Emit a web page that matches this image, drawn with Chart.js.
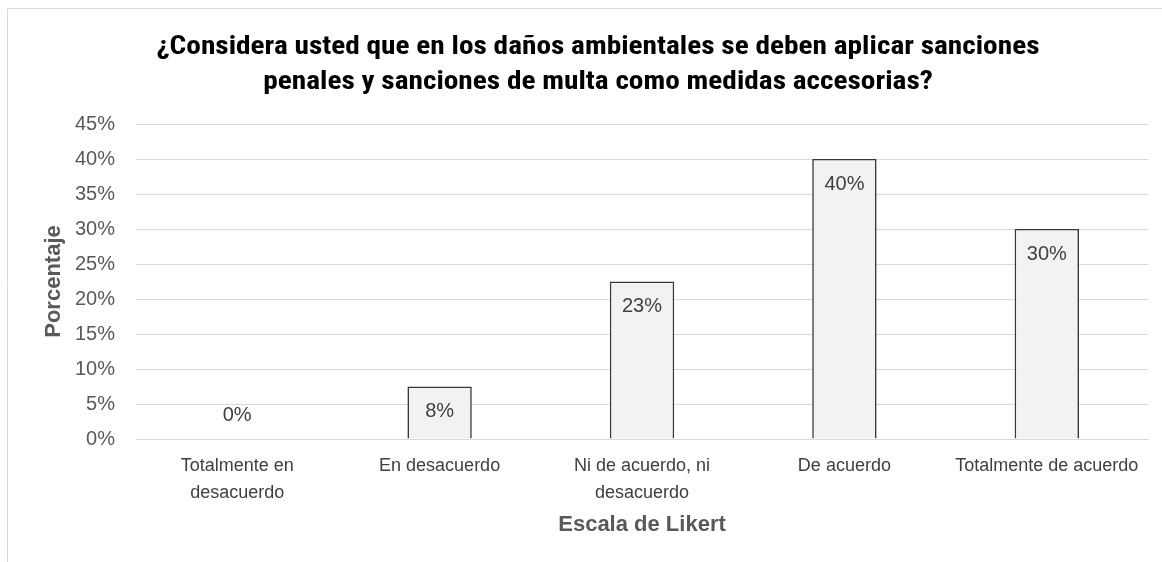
<!DOCTYPE html>
<html lang="es">
<head>
<meta charset="utf-8">
<title>Sanciones penales y de multa</title>
<script src="https://cdn.jsdelivr.net/npm/chart.js@4.4.1/dist/chart.umd.min.js"></script>
<style>
  html, body { margin: 0; padding: 0; background: #ffffff; }
  canvas { display: block; }
</style>
</head>
<body>
<canvas id="chart" width="1162" height="562"></canvas>
<script>
// Survey answers on the Likert scale and the share of respondents (%)
const categories = [
  ['Totalmente en', 'desacuerdo'],
  'En desacuerdo',
  ['Ni de acuerdo, ni', 'desacuerdo'],
  'De acuerdo',
  'Totalmente de acuerdo'
];
const percentages = [0, 7.5, 22.5, 40, 30];
const yTicks = [0, 5, 10, 15, 20, 25, 30, 35, 40, 45];
const titleLines = [
  '¿Considera usted que en los daños ambientales se deben aplicar sanciones',
  'penales y sanciones de multa como medidas accesorias?'
];
const yAxisTitle = 'Porcentaje';
const xAxisTitle = 'Escala de Likert';

const SANS = '"Liberation Sans", Arial, sans-serif';
const NARROW = '"Liberation Sans Narrow", "Arial Narrow", "Roboto Condensed", sans-serif';

// White background, the thin frame and the two-line heading
const framePlugin = {
  id: 'frame',
  beforeDraw(chart) {
    const ctx = chart.ctx;
    ctx.save();
    ctx.fillStyle = '#ffffff';
    ctx.fillRect(0, 0, chart.width, chart.height);
    ctx.strokeStyle = '#d9d9d9';
    ctx.lineWidth = 1;
    ctx.beginPath();
    ctx.moveTo(7.5, chart.height);
    ctx.lineTo(7.5, 8.5);
    ctx.lineTo(chart.width, 8.5);
    ctx.stroke();
    ctx.restore();

    // heading: condensed bold face, widened so the first line spans 883px
    ctx.save();
    ctx.fillStyle = '#000000';
    ctx.font = 'bold 25px ' + NARROW;
    ctx.textAlign = 'center';
    ctx.textBaseline = 'middle';
    const stretch = 883 / ctx.measureText(titleLines[0]).width;
    ctx.translate(598, 0);
    ctx.scale(stretch, 1);
    titleLines.forEach((line, i) => ctx.fillText(line, 0, 48 + i * 35));
    ctx.restore();
  }
};

// Value labels just inside the top of each bar (above the axis for a zero bar)
const valueLabels = {
  id: 'valueLabels',
  afterDatasetsDraw(chart) {
    const ctx = chart.ctx;
    const meta = chart.getDatasetMeta(0);
    ctx.save();
    ctx.font = '20px ' + SANS;
    ctx.fillStyle = '#404040';
    ctx.textAlign = 'center';
    ctx.textBaseline = 'middle';
    meta.data.forEach((bar, i) => {
      const v = percentages[i];
      const y = v > 0 ? bar.y + 25 : bar.y - 24;
      ctx.fillText(Math.round(v) + '%', bar.x, y);
    });
    ctx.restore();
  }
};

new Chart(document.getElementById('chart'), {
  type: 'bar',
  data: {
    labels: categories,
    datasets: [{
      data: percentages,
      backgroundColor: '#f2f2f2',
      borderColor: '#383838',
      borderWidth: 1.6,
      barPercentage: 1,
      categoryPercentage: 0.318
    }]
  },
  options: {
    responsive: false,
    devicePixelRatio: 1,
    animation: false,
    layout: { padding: { top: 124, right: 14, bottom: 0, left: 0 } },
    plugins: {
      legend: { display: false },
      title: { display: false },
      tooltip: { enabled: false }
    },
    scales: {
      x: {
        grid: { display: false, drawTicks: false },
        border: { display: true, color: '#d9d9d9' },
        ticks: {
          color: '#404040',
          font: { family: SANS, size: 18, lineHeight: 1.5 },
          padding: 14,
          maxRotation: 0,
          autoSkip: false
        },
        title: {
          display: true,
          text: xAxisTitle,
          color: '#595959',
          font: { family: SANS, size: 22, weight: 'bold', lineHeight: 1.2 },
          padding: { top: 0, bottom: 24 }
        },
        afterFit(scale) { scale.height = 123; }
      },
      y: {
        min: 0,
        max: 45,
        afterBuildTicks(scale) { scale.ticks = yTicks.map(v => ({ value: v })); },
        grid: { color: '#d9d9d9', lineWidth: 1, drawTicks: false },
        border: { display: false },
        ticks: {
          color: '#595959',
          font: { family: SANS, size: 20 },
          padding: 21,
          callback: v => v + '%'
        },
        title: {
          display: true,
          text: yAxisTitle,
          color: '#595959',
          font: { family: SANS, size: 22, weight: 'bold', lineHeight: 1.2 },
          padding: { top: 41, bottom: 0 }
        },
        afterFit(scale) { scale.width = 136; }
      }
    }
  },
  plugins: [framePlugin, valueLabels]
});
</script>
</body>
</html>
